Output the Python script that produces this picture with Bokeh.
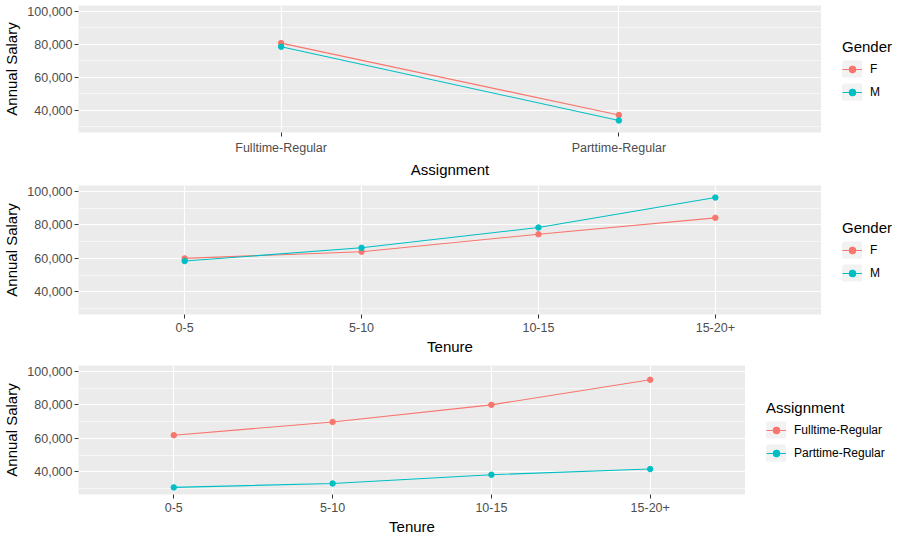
from bokeh.plotting import figure
from bokeh.models import (Range1d, FixedTicker, NumeralTickFormatter, Legend,
                          LegendItem)
from bokeh.layouts import column, row
from bokeh.embed import file_html
from bokeh.resources import INLINE

# ---------------- data ----------------
assignments = ["Fulltime-Regular", "Parttime-Regular"]
tenure = ["0-5", "5-10", "10-15", "15-20+"]

# Panel 1: salary by assignment and gender
p1_female = [80700, 37100]
p1_male = [78500, 33800]

# Panel 2: salary by tenure and gender
p2_female = [60000, 64000, 74400, 84200]
p2_male = [58400, 66300, 78400, 96300]

# Panel 3: salary by tenure and assignment
p3_fulltime = [61900, 69800, 80000, 95000]
p3_parttime = [30750, 33060, 38300, 41700]

y_major = [40000, 60000, 80000, 100000]
y_minor = [30000, 50000, 70000, 90000]
y_limits = (30000, 100000)

COLORS = ["#F8766D", "#00BFC4"]
FONT = "Liberation Sans"
TOTAL_W = 897
LEFT = 70
FRAME_H = 129
TOP = 5
BOTTOM = 46


def make_legend_fig(names, title, width):
    """A small axis-less figure that only carries the legend."""
    lf = figure(output_backend="svg", toolbar_location=None,
                width=width, height=TOP + FRAME_H + BOTTOM,
                min_border_left=21, min_border_right=0,
                min_border_top=TOP, min_border_bottom=BOTTOM,
                x_axis_type=None, y_axis_type=None,
                x_range=Range1d(0, 1), y_range=Range1d(0, 1))
    lf.outline_line_color = None
    lf.background_fill_color = "white"
    lf.border_fill_color = "white"
    items = []
    for name, col in zip(names, COLORS):
        # helper glyphs placed outside the visible range: only their
        # legend swatches are shown
        bg = lf.quad(left=[-3], right=[-2], top=[-2], bottom=[-3],
                     fill_color="#F2F2F2", line_color="#F2F2F2", line_width=6)
        ln = lf.line([-3, -2], [-3, -2], line_color=col, line_width=1.1)
        pt = lf.scatter([-3], [-3], size=5.5, fill_color=col, line_color=col)
        items.append(LegendItem(label=name, renderers=[bg, ln, pt]))
    legend = Legend(items=items, location="center_left",
                    title=title,
                    title_text_font=FONT, title_text_font_size="15px",
                    title_text_font_style="normal", title_text_color="black",
                    title_standoff=6,
                    label_text_font=FONT, label_text_font_size="12px",
                    label_text_color="black",
                    glyph_width=20, glyph_height=17, label_height=17,
                    spacing=6, label_standoff=8, padding=0, margin=0,
                    background_fill_alpha=0, border_line_color=None)
    lf.add_layout(legend, "center")
    return lf


def make_panel(categories, series, xlabel, legend_title, frame_width):
    n = len(categories)
    xs = list(range(1, n + 1))
    span = y_limits[1] - y_limits[0]
    p = figure(output_backend="svg", toolbar_location=None,
               width=LEFT + frame_width, height=TOP + FRAME_H + BOTTOM,
               min_border_left=LEFT, min_border_right=0,
               min_border_top=TOP, min_border_bottom=BOTTOM,
               x_range=Range1d(0.4, n + 0.6),
               y_range=Range1d(y_limits[0] - 0.05 * span,
                               y_limits[1] + 0.05 * span))
    p.background_fill_color = "#EBEBEB"
    p.border_fill_color = "white"
    p.outline_line_color = None

    # axes
    p.xaxis.ticker = FixedTicker(ticks=xs)
    p.xaxis.major_label_overrides = {x: c for x, c in zip(xs, categories)}
    p.yaxis.ticker = FixedTicker(ticks=y_major, minor_ticks=y_minor)
    p.yaxis.formatter = NumeralTickFormatter(format="0,0")
    for ax in (p.xaxis[0], p.yaxis[0]):
        ax.axis_line_color = None
        ax.major_tick_line_color = "#333333"
        ax.major_tick_in = 0
        ax.major_tick_out = 4
        ax.minor_tick_line_color = None
        ax.major_label_text_font = FONT
        ax.major_label_text_font_size = "12.5px"
        ax.major_label_text_color = "#4D4D4D"
        ax.axis_label_text_font = FONT
        ax.axis_label_text_font_size = "15px"
        ax.axis_label_text_font_style = "normal"
        ax.axis_label_text_color = "black"
    p.xaxis.major_label_standoff = 4
    p.xaxis.axis_label_standoff = 3
    p.yaxis.major_label_standoff = 2
    p.yaxis.axis_label_standoff = 4
    p.xaxis.axis_label = xlabel
    p.yaxis.axis_label = "Annual Salary"

    # grid
    p.xgrid.grid_line_color = "white"
    p.xgrid.grid_line_width = 1.2
    p.ygrid.grid_line_color = "white"
    p.ygrid.grid_line_width = 1.2
    p.ygrid.minor_grid_line_color = "white"
    p.ygrid.minor_grid_line_width = 0.6

    names = []
    for (name, vals), col in zip(series, COLORS):
        p.line(xs, vals, line_color=col, line_width=1.1)
        p.scatter(xs, vals, size=5.5, fill_color=col, line_color=col)
        names.append(name)

    lf = make_legend_fig(names, legend_title, TOTAL_W - LEFT - frame_width)
    return row(p, lf, spacing=0)


r1 = make_panel(assignments,
                [("F", p1_female), ("M", p1_male)],
                "Assignment", "Gender", 751)
r2 = make_panel(tenure,
                [("F", p2_female), ("M", p2_male)],
                "Tenure", "Gender", 751)
r3 = make_panel(tenure,
                [("Fulltime-Regular", p3_fulltime),
                 ("Parttime-Regular", p3_parttime)],
                "Tenure", "Assignment", 675)

layout = column(r1, r2, r3, spacing=0)
open("out.html", "w").write(file_html(layout, INLINE))
